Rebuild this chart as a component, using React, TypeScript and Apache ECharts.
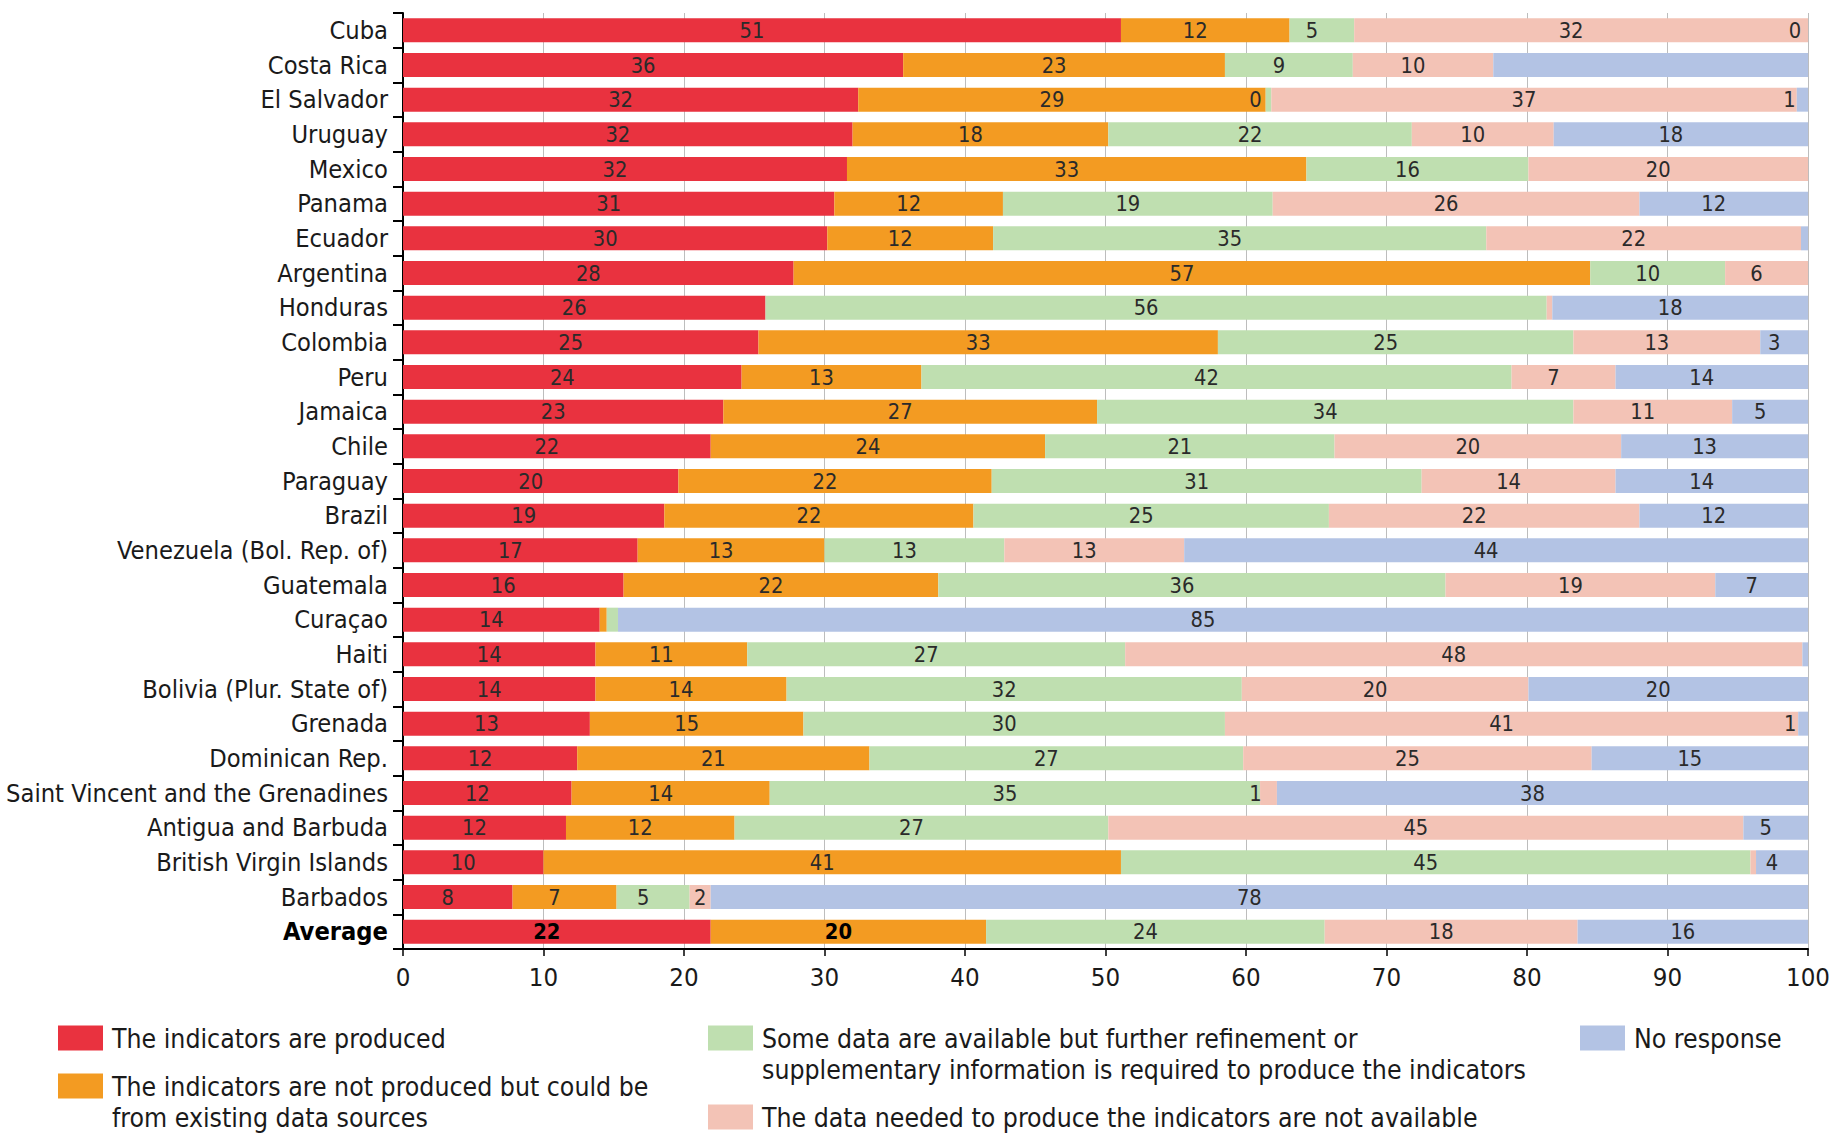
import React, { useEffect, useRef } from "react";
import * as echarts from "echarts";

const categories = [
  "Cuba", "Costa Rica", "El Salvador", "Uruguay", "Mexico", "Panama", "Ecuador", "Argentina",
  "Honduras", "Colombia", "Peru", "Jamaica", "Chile", "Paraguay", "Brazil",
  "Venezuela (Bol. Rep. of)", "Guatemala", "Curaçao", "Haiti", "Bolivia (Plur. State of)",
  "Grenada", "Dominican Rep.", "Saint Vincent and the Grenadines", "Antigua and Barbuda",
  "British Virgin Islands", "Barbados", "Average",
];

const seriesNames = [
  "The indicators are produced",
  "The indicators are not produced but could be from existing data sources",
  "Some data are available but further refinement or supplementary information is required to produce the indicators",
  "The data needed to produce the indicators are not available",
  "No response",
];

const legendLines = [
  "The indicators are produced",
  "The indicators are not produced but could be\nfrom existing data sources",
  "Some data are available but further refinement or\nsupplementary information is required to produce the indicators",
  "The data needed to produce the indicators are not available",
  "No response",
];

const produced = [51.1, 35.6, 32.4, 32.0, 31.6, 30.7, 30.2, 27.8, 25.8, 25.3, 24.1, 22.8, 21.9, 19.6, 18.6, 16.7, 15.7, 14.0, 13.7, 13.7, 13.3, 12.4, 12.0, 11.6, 10.0, 7.8, 21.9];
const couldBeProduced = [12.0, 22.9, 29.0, 18.2, 32.7, 12.0, 11.8, 56.7, null, 32.7, 12.8, 26.6, 23.8, 22.3, 22.0, 13.3, 22.4, 0.5, 10.8, 13.6, 15.2, 20.8, 14.1, 12.0, 41.1, 7.4, 19.6];
const someData = [4.6, 9.1, 0.4, 21.6, 15.8, 19.2, 35.1, 9.6, 55.6, 25.3, 42.0, 33.9, 20.6, 30.6, 25.3, 12.8, 36.1, 0.8, 26.9, 32.4, 30.0, 26.6, 34.9, 26.6, 44.8, 5.2, 24.1];
const notAvailable = [32.3, 10.0, 37.4, 10.1, 19.9, 26.1, 22.4, 5.9, 0.4, 13.3, 7.4, 11.3, 20.4, 13.8, 22.1, 12.8, 19.2, null, 48.2, 20.4, 40.8, 24.8, 1.2, 45.2, 0.4, 1.5, 18.0];
const noResponse = [0, 22.4, 0.8, 18.1, null, 12.0, 0.5, null, 18.2, 3.4, 13.7, 5.4, 13.3, 13.7, 12.0, 44.4, 6.6, 84.7, 0.4, 19.9, 0.7, 15.4, 37.8, 4.6, 3.7, 78.1, 16.4];

const hiddenLabels: [string, number][] = [
  ["Costa Rica", 4], ["Ecuador", 4], ["Honduras", 3], ["Curaçao", 1], ["Curaçao", 2],
  ["Haiti", 4], ["British Virgin Islands", 3],
];
const boldRow = "Average";
const boldSeries = [0, 1];

const xTicks = [0, 10, 20, 30, 40, 50, 60, 70, 80, 90, 100];

const colors = ["#E9323F", "#F39B22", "#BFDFB0", "#F3C3B6", "#B3C3E4"];

function pickFont(): string {
  const ctx = document.createElement("canvas").getContext("2d");
  if (!ctx) return "Liberation Sans";
  const t = "Saint Vincent and the Grenadines";
  const cands = ["Liberation Sans Narrow", "DejaVu Sans Condensed", "Roboto Condensed", "Open Sans Condensed", "Arial Narrow", "Nimbus Sans Narrow"];
  ctx.font = "100px monospace";
  const base = ctx.measureText(t).width;
  for (const f of cands) {
    ctx.font = `100px "${f}", monospace`;
    if (Math.abs(ctx.measureText(t).width - base) > 1) return f;
  }
  return "Liberation Sans";
}

export default function App() {
  const ref = useRef<HTMLDivElement>(null);
  useEffect(() => {
    document.body.style.margin = "0";
    document.body.style.overflow = "hidden";
    if (!ref.current) return;
    const fam = pickFont();
    const fontStack = `"${fam}", "Liberation Sans", sans-serif`;
    const ctx = document.createElement("canvas").getContext("2d")!;
    const measure = (t: string) => {
      ctx.font = `100px ${fontStack}`;
      return ctx.measureText(t).width / 100;
    };
    const catSize = Math.min(32, 382 / measure("Saint Vincent and the Grenadines"));
    const legSize = Math.min(31, 334 / measure("The indicators are produced"));
    const valSize = catSize * 0.86;
    const tickSize = Math.min(32, 44 / measure("100"));

    const allSeries = [produced, couldBeProduced, someData, notAvailable, noResponse];

    const chart = echarts.init(ref.current, undefined, { renderer: "svg" });

    const series = allSeries.map((arr, si) => ({
      name: seriesNames[si],
      type: "bar",
      stack: "total",
      barWidth: 24,
      itemStyle: { color: colors[si] },
      emphasis: { disabled: true },
      label: {
        show: true,
        position: "inside",
        fontFamily: fontStack,
        fontSize: valSize,
        color: "#2a2a2a",
        formatter: (p: any) => String(Math.round(Number(p.value))),
      },
      data: arr.map((v, i) => {
        if (v === null) return "-";
        const cat = categories[i];
        const hidden = hiddenLabels.some(([c, s]) => c === cat && s === si);
        const bold = cat === boldRow && boldSeries.includes(si);
        return {
          value: v,
          label: {
            show: !hidden,
            offset: v < 1.3 ? [-13, 0] : v < 2 ? [0, 0] : [-10, 0],
            fontWeight: bold ? "bold" : "normal",
            color: bold ? "#000" : "#2a2a2a",
          },
        };
      }),
    }));

    const legendPos = [
      { left: 58, top: 1025, two: false },
      { left: 58, top: 1070.5, two: true },
      { left: 708, top: 1022.5, two: true },
      { left: 708, top: 1104, two: false },
      { left: 1580, top: 1025, two: false },
    ];

    const legend = legendPos.map((p, i) => ({
      data: [seriesNames[i]],
      left: p.left,
      top: p.top,
      orient: "horizontal",
      padding: 0,
      selectedMode: false,
      itemWidth: 45,
      itemHeight: p.two ? 56 : 25,
      icon: p.two ? "path://M0,0H45V25H0Z M0,56H45V56H0Z" : "rect",
      formatter: () => legendLines[i],
      textStyle: {
        fontFamily: fontStack,
        fontSize: legSize,
        lineHeight: p.two ? 31 : 26,
        color: "#1a1a1a",
        padding: [0, 0, 0, 4],
      },
    }));

    chart.setOption({
      animation: false,
      backgroundColor: "#ffffff",
      grid: { left: 403, right: 24, top: 13, height: 936, containLabel: false },
      legend,
      xAxis: {
        type: "value",
        min: xTicks[0],
        max: xTicks[xTicks.length - 1],
        interval: xTicks[1] - xTicks[0],
        axisLine: { show: true, lineStyle: { color: "#000", width: 2 } },
        axisTick: { show: true, length: 7, lineStyle: { color: "#000", width: 1.5 } },
        splitLine: { show: true, lineStyle: { color: "#bdbdbd", width: 1 } },
        axisLabel: { fontFamily: fontStack, fontSize: tickSize, color: "#1a1a1a", margin: 15 },
      },
      yAxis: {
        type: "category",
        data: categories,
        inverse: true,
        axisLine: { show: true, lineStyle: { color: "#000", width: 2 } },
        axisTick: { show: true, length: 10, lineStyle: { color: "#000", width: 2 } },
        axisLabel: {
          fontFamily: fontStack,
          fontSize: catSize,
          color: "#1a1a1a",
          margin: 15,
          formatter: (v: string) => (v === boldRow ? `{b|${v}}` : v),
          rich: { b: { fontFamily: fontStack, fontSize: catSize, fontWeight: "bold", color: "#000" } },
        },
      },
      series,
    } as any);

    return () => chart.dispose();
  }, []);
  return <div ref={ref} style={{ width: 1833, height: 1134 }} />;
}
